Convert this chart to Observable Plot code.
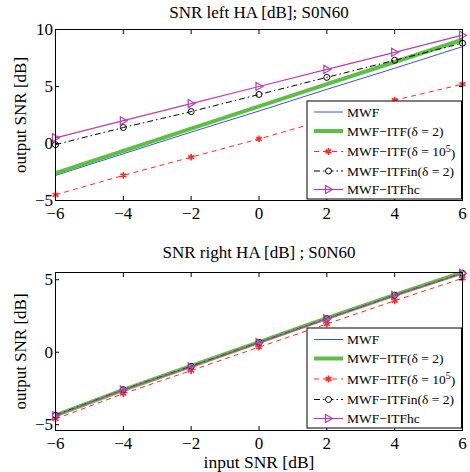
<!DOCTYPE html>
<html>
<head>
<meta charset="utf-8">
<script src="https://cdn.jsdelivr.net/npm/d3@7"></script>
<script src="https://cdn.jsdelivr.net/npm/@observablehq/plot@0.6"></script>
<style>
  html, body { margin: 0; padding: 0; background: #fff; }
  #wrap { position: relative; width: 470px; height: 472px; font-family: "Liberation Serif", serif; }
  #wrap > svg { position: absolute; left: 0; }
</style>
</head>
<body>
<div id="wrap"></div>
<script>
// ---------- data ----------
const snrIn = [-6, -4, -2, 0, 2, 4, 6];
const seriesNames = ["MWF", "MWF\u2212ITF(\u03b4 = 2)", "MWF\u2212ITF(\u03b4 = 10^5)", "MWF\u2212ITFin(\u03b4 = 2)", "MWF\u2212ITFhc"];

const leftMWF    = [-2.8, -0.9, 1.0, 2.85, 4.75, 6.6, 8.5];
const leftITF2   = [-2.6, -0.65, 1.3, 3.25, 5.2, 7.15, 9.1];
const leftITF1e5 = [-4.5, -2.8, -1.2, 0.4, 2.1, 3.8, 5.2];
const leftITFin  = [-0.1, 1.4, 2.8, 4.3, 5.8, 7.3, 8.8];
const leftITFhc  = [0.5, 2.0, 3.5, 5.0, 6.5, 8.0, 9.5];

const rightMWF    = [-4.3, -2.55, -0.9, 0.75, 2.35, 3.95, 5.5];
const rightITF2   = [-4.35, -2.6, -0.95, 0.7, 2.35, 3.95, 5.5];
const rightITF1e5 = [-4.6, -2.86, -1.26, 0.35, 1.95, 3.55, 5.1];
const rightITFin  = [-4.35, -2.58, -0.97, 0.68, 2.32, 3.93, 5.45];
const rightITFhc  = [-4.38, -2.6, -1.0, 0.66, 2.3, 3.92, 5.45];

const xTicks = [-6, -4, -2, 0, 2, 4, 6];
const topYTicks = [-5, 0, 5, 10];
const bottomYTicks = [-5, 0, 5];
const topTitle = "SNR left HA [dB]; S0N60";
const bottomTitle = "SNR right HA [dB] ; S0N60";
const yLabel = "output SNR [dB]";
const xLabel = "input SNR [dB]";

// ---------- styles ----------
const triRight = {
  draw(ctx, size) {
    const r = Math.sqrt(size / Math.PI);
    ctx.moveTo(r, 0);
    ctx.lineTo(-r * 0.75, -r);
    ctx.lineTo(-r * 0.75, r);
    ctx.closePath();
  }
};
const styles = [
  {stroke: "#3a55c8", width: 1, dash: null, symbol: null},
  {stroke: "#5fbf45", width: 4, dash: null, symbol: null},
  {stroke: "#ff2a2a", width: 1, dash: "5,4", symbol: "asterisk", r: 3.2, sw: 1.6},
  {stroke: "#000000", width: 1, dash: "6,3,1.5,3", symbol: "circle", r: 3, sw: 1},
  {stroke: "#b23fb2", width: 1.2, dash: null, symbol: triRight, r: 4, sw: 1.2}
];

function rowsFor(arrs) {
  return arrs.map((ys, i) => snrIn.map((x, j) => ({x, y: ys[j], s: seriesNames[i]})));
}

function panel({arrs, yDomain, yTicks, title, titleDy, height, marginTop, marginBottom, showX}) {
  const series = rowsFor(arrs);
  const marks = [];
  series.forEach((rows, i) => {
    const st = styles[i];
    marks.push(Plot.line(rows, {x: "x", y: "y", stroke: st.stroke, strokeWidth: st.width, strokeDasharray: st.dash, strokeLinecap: "butt"}));
    if (st.symbol) {
      marks.push(Plot.dot(rows, {x: "x", y: "y", symbol: st.symbol, r: st.r, stroke: st.stroke, strokeWidth: st.sw, fill: "none"}));
    }
  });
  return Plot.plot({
    width: 470,
    height,
    marginTop,
    marginBottom,
    marginLeft: 55,
    marginRight: 8,
    style: {fontFamily: "Liberation Serif", fontSize: "17px", color: "black", background: "white"},
    x: {domain: [-6, 6]},
    y: {domain: yDomain},
    marks: [
      ...marks,
      Plot.frame({stroke: "black", strokeWidth: 1}),
      Plot.axisX({ticks: xTicks, tickSize: 0, tickPadding: 6.5, label: null, fontSize: 17}),
      Plot.axisX({ticks: xTicks, tickSize: -4, tickFormat: () => "", label: null}),
      Plot.axisX({ticks: xTicks, anchor: "top", tickSize: -4, tickFormat: () => "", label: null}),
      Plot.axisY({ticks: yTicks, tickSize: 0, tickPadding: 2.5, label: null, fontSize: 17}),
      Plot.axisY({ticks: yTicks, tickSize: -4, tickFormat: () => "", label: null}),
      Plot.axisY({ticks: yTicks, anchor: "right", tickSize: -4, tickFormat: () => "", label: null}),
      Plot.text([title], {frameAnchor: "top", dy: titleDy, lineAnchor: "bottom", fontSize: 17}),
      Plot.text([yLabel], {frameAnchor: "left", dx: -35, rotate: -90, textAnchor: "middle", lineAnchor: "middle", fontSize: 17}),
      showX ? Plot.text([xLabel], {frameAnchor: "bottom", dy: 37, lineAnchor: "bottom", fontSize: 17.5}) : null
    ]
  });
}

const wrap = document.getElementById("wrap");
const p1 = panel({arrs: [leftMWF, leftITF2, leftITF1e5, leftITFin, leftITFhc], yDomain: [-5, 10], yTicks: topYTicks,
  title: topTitle, titleDy: -11.7, height: 240, marginTop: 29, marginBottom: 40, showX: false});
p1.style.top = "0px";
wrap.appendChild(p1);
const p2 = panel({arrs: [rightMWF, rightITF2, rightITF1e5, rightITFin, rightITFhc], yDomain: [-5.4, 5.5], yTicks: bottomYTicks,
  title: bottomTitle, titleDy: -14.5, height: 232, marginTop: 32, marginBottom: 42, showX: true});
p2.style.top = "240px";
wrap.appendChild(p2);

// ---------- legends (overlay) ----------
const leg = d3.select(wrap).append("svg")
  .attr("width", 470).attr("height", 472)
  .style("top", "0px")
  .style("font-family", "Liberation Serif")
  .style("font-size", "13.5px");

function legend(box, rowsY) {
  const g = leg.append("g");
  g.append("rect").attr("x", box.x).attr("y", box.y).attr("width", box.w).attr("height", box.h)
    .attr("fill", "white").attr("stroke", "black").attr("stroke-width", 1);
  seriesNames.forEach((name, i) => {
    const st = styles[i];
    const y = rowsY[i];
    const x0 = box.x + 7, x1 = box.x + 36, xm = (x0 + x1) / 2;
    g.append("line").attr("x1", x0).attr("x2", x1).attr("y1", y).attr("y2", y)
      .attr("stroke", st.stroke).attr("stroke-width", st.width)
      .attr("stroke-dasharray", st.dash);
    if (st.symbol) {
      let pathGen;
      if (st.symbol === "asterisk") pathGen = d3.symbol(d3.symbolAsterisk, Math.PI * st.r * st.r);
      else if (st.symbol === "circle") pathGen = d3.symbol(d3.symbolCircle, Math.PI * st.r * st.r);
      else pathGen = d3.symbol(st.symbol, Math.PI * st.r * st.r);
      g.append("path").attr("d", pathGen()).attr("transform", `translate(${xm},${y})`)
        .attr("fill", st.symbol === "circle" ? "white" : "none").attr("stroke", st.stroke).attr("stroke-width", st.sw);
    }
    const t = g.append("text").attr("x", box.x + 40).attr("y", y).attr("dy", "0.35em").attr("fill", "black");
    if (name.includes("^")) {
      const [a, rest] = name.split("^");
      t.append("tspan").text(a);
      t.append("tspan").attr("dy", "-0.45em").attr("font-size", "10px").text(rest[0]);
      t.append("tspan").attr("dy", "0.45em").text(rest.slice(1));
    } else {
      t.text(name);
    }
  });
}
legend({x: 307, y: 101, w: 154.5, h: 98}, [112, 131, 151.5, 171, 189.5]);
legend({x: 307, y: 328, w: 154.5, h: 100}, [339.5, 358.5, 379, 399.5, 418.5]);
</script>
</body>
</html>
